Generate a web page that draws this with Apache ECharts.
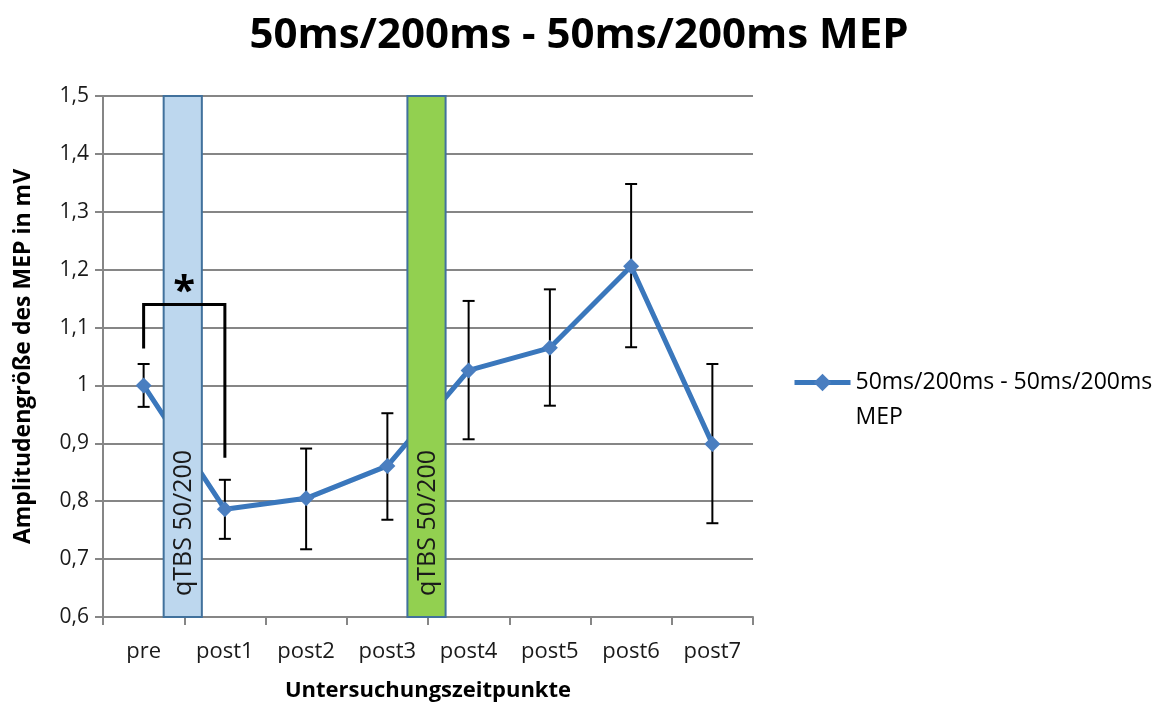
<!DOCTYPE html>
<html>
<head>
<meta charset="utf-8">
<script src="https://cdn.jsdelivr.net/npm/echarts@6/dist/echarts.min.js"></script>
<style>
  html, body { margin: 0; padding: 0; background: #fff; }
  #chart { width: 1158px; height: 704px; }
</style>
</head>
<body>
<div id="chart"></div>
<script>
// Measurement time points
const categories = ['pre', 'post1', 'post2', 'post3', 'post4', 'post5', 'post6', 'post7'];
// Mean MEP amplitude (mV)
const meanValues = [1.000, 0.786, 0.805, 0.861, 1.026, 1.065, 1.206, 0.899];
// Error bar ends (mV)
const errLow  = [0.963, 0.735, 0.717, 0.768, 0.907, 0.965, 1.066, 0.762];
const errHigh = [1.037, 0.837, 0.891, 0.952, 1.146, 1.166, 1.348, 1.037];
// Stimulation blocks, placed between a time point and the next one
const stimAfter = ['pre', 'post3'];
const stimLabels = ['qTBS 50/200', 'qTBS 50/200'];
const stimFill = ['#bdd7ee', '#92d050'];
// Significance bracket: from, to, left end, right end, top (mV), mark
const sigFrom = ['pre'];
const sigTo = ['post1'];
const sigLeftEnd = [1.064];
const sigRightEnd = [0.875];
const sigTop = [1.140];
const sigMark = ['*'];
// Y axis ticks
const yMin = 0.6, yMax = 1.5, yStep = 0.1;

const seriesName = '50ms/200ms - 50ms/200ms MEP';
const FONT = '"Open Sans", sans-serif';
const LINE_BLUE = '#3a77bc';
const MARK_BLUE = '#4a7ec0';

const chart = echarts.init(document.getElementById('chart'), null, { renderer: 'canvas' });

const stimData = stimAfter.map((c, i) => [categories.indexOf(c), i]);
const errData = categories.map((c, i) => [i, errLow[i], errHigh[i]]);
const sigData = sigFrom.map((f, i) => [categories.indexOf(f), categories.indexOf(sigTo[i]), sigLeftEnd[i], sigRightEnd[i], sigTop[i], i]);

chart.setOption({
  animation: false,
  backgroundColor: '#ffffff',
  title: {
    text: seriesName,
    left: 'center',
    top: 10,
    textStyle: { fontFamily: FONT, fontWeight: 'bold', fontSize: 42, color: '#000' }
  },
  legend: {
    left: 792,
    top: 330,
    padding: 0,
    itemWidth: 56,
    itemHeight: 22,
    data: [seriesName],
    lineStyle: { width: 5, color: LINE_BLUE },
    itemStyle: { color: MARK_BLUE },
    // blank first line keeps the icon level with the first text line
    formatter: () => ' \n50ms/200ms - 50ms/200ms\nMEP',
    textStyle: { fontFamily: FONT, fontSize: 23, color: '#000', lineHeight: 35 }
  },
  grid: { left: 103, right: 405, top: 96, bottom: 87, containLabel: false, outerBoundsMode: 'none' },
  xAxis: {
    type: 'category',
    data: categories,
    boundaryGap: true,
    name: 'Untersuchungszeitpunkte',
    nameLocation: 'middle',
    nameGap: 63,
    nameTextStyle: { fontFamily: FONT, fontWeight: 'bold', fontSize: 22, color: '#000' },
    axisLine: { lineStyle: { color: '#868686', width: 2 } },
    axisTick: { show: true, length: 8, lineStyle: { color: '#868686', width: 2 } },
    axisLabel: { fontFamily: FONT, fontSize: 22, color: '#1a1a1a', margin: 24 },
    splitLine: { show: false }
  },
  yAxis: {
    type: 'value',
    min: yMin,
    max: yMax,
    interval: yStep,
    name: 'Amplitudengröße des MEP in mV',
    nameLocation: 'middle',
    nameGap: 68,
    nameTextStyle: { fontFamily: FONT, fontWeight: 'bold', fontSize: 23, color: '#000' },
    axisLine: { show: true, lineStyle: { color: '#868686', width: 2 } },
    axisTick: { show: true, length: 8, lineStyle: { color: '#868686', width: 2 } },
    axisLabel: {
      fontFamily: FONT, fontSize: 21, color: '#1a1a1a', margin: 14,
      formatter: v => String(Math.round(v * 10) / 10).replace('.', ',')
    },
    splitLine: { lineStyle: { color: '#868686', width: 2 } }
  },
  series: [
    {
      // error bars
      type: 'custom',
      z: 1,
      silent: true,
      data: errData,
      renderItem: (params, api) => {
        const lo = api.coord([api.value(0), api.value(1)]);
        const hi = api.coord([api.value(0), api.value(2)]);
        const cap = 6;
        const st = { stroke: '#000', lineWidth: 2 };
        return {
          type: 'group',
          children: [
            { type: 'line', shape: { x1: lo[0], y1: lo[1], x2: hi[0], y2: hi[1] }, style: st },
            { type: 'line', shape: { x1: lo[0] - cap, y1: lo[1], x2: lo[0] + cap, y2: lo[1] }, style: st },
            { type: 'line', shape: { x1: hi[0] - cap, y1: hi[1], x2: hi[0] + cap, y2: hi[1] }, style: st }
          ]
        };
      }
    },
    {
      name: seriesName,
      type: 'line',
      z: 2,
      data: meanValues,
      symbol: 'diamond',
      symbolSize: 16,
      lineStyle: { color: LINE_BLUE, width: 5 },
      itemStyle: { color: MARK_BLUE }
    },
    {
      // stimulation blocks
      type: 'custom',
      z: 3,
      silent: true,
      data: stimData,
      renderItem: (params, api) => {
        const i = api.value(1);
        const band = api.size([1, 0])[0];
        const c = api.coord([api.value(0), yMin]);
        const cx = c[0] + band / 2 - 1.5;
        const w = band * 0.47;
        const top = params.coordSys.y;
        const bottom = params.coordSys.y + params.coordSys.height;
        return {
          type: 'group',
          children: [
            {
              type: 'rect',
              shape: { x: cx - w / 2, y: top, width: w, height: bottom - top },
              style: { fill: stimFill[i], stroke: '#41719c', lineWidth: 2 }
            },
            {
              type: 'text',
              x: cx + 1,
              y: bottom - 21,
              rotation: Math.PI / 2,
              style: {
                text: stimLabels[i], x: 0, y: 0, align: 'left', verticalAlign: 'middle',
                fontFamily: FONT, fontSize: 25, fill: '#1a1a1a'
              }
            }
          ]
        };
      }
    },
    {
      // significance bracket
      type: 'custom',
      z: 4,
      silent: true,
      data: sigData,
      renderItem: (params, api) => {
        const a = api.coord([api.value(0), api.value(4)]);
        const b = api.coord([api.value(1), api.value(4)]);
        const la = api.coord([api.value(0), api.value(2)]);
        const rb = api.coord([api.value(1), api.value(3)]);
        const st = { stroke: '#000', lineWidth: 3, fill: null };
        return {
          type: 'group',
          children: [
            { type: 'polyline', shape: { points: [[la[0], la[1]], [a[0], a[1]], [b[0], b[1]], [rb[0], rb[1]]] }, style: st },
            {
              type: 'text',
              x: (a[0] + b[0]) / 2, y: a[1] + 8,
              style: {
                text: sigMark[api.value(5)], align: 'center', verticalAlign: 'bottom',
                fontFamily: FONT, fontWeight: 'bold', fontSize: 40, fill: '#000'
              }
            }
          ]
        };
      }
    }
  ]
});
</script>
</body>
</html>
